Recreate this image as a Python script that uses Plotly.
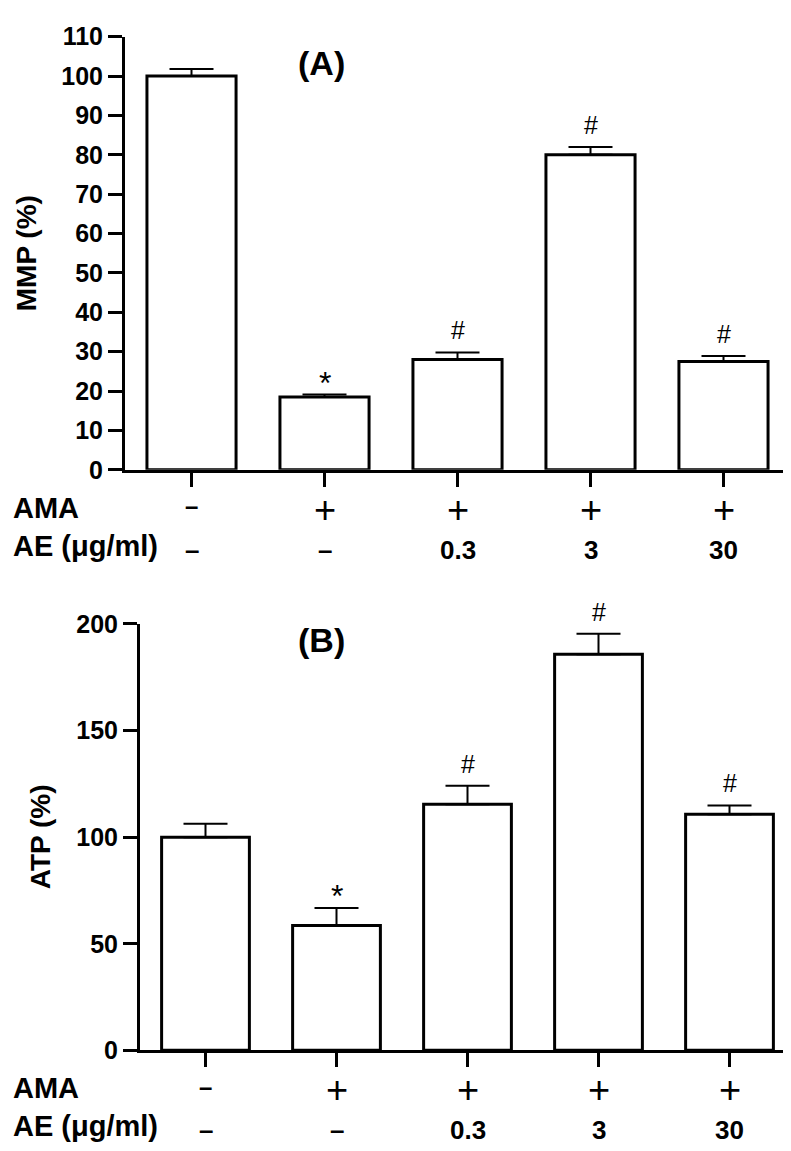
import plotly.graph_objects as go

# ---- data ----
groups = [0, 1, 2, 3, 4]
ama_labels = ["–", "+", "+", "+", "+"]
ae_labels = ["–", "–", "0.3", "3", "30"]

mmp_values = [100, 18.5, 28, 80, 27.5]
mmp_errors = [1.8, 0.6, 1.8, 2.0, 1.4]
mmp_marks = ["", "*", "#", "#", "#"]

atp_values = [100, 58.6, 115.5, 185.8, 110.8]
atp_errors = [6.3, 8.2, 8.6, 9.6, 4.1]
atp_marks = ["", "*", "#", "#", "#"]

W, H = 791, 1151
FONT = "Liberation Sans, Arial, sans-serif"


def px_x(p):
    return p / W


def px_y(p):
    return 1 - p / H


fig = go.Figure()

panels = [
    dict(xa="x", ya="y", vals=mmp_values, errs=mmp_errors, marks=mmp_marks,
         xdom=[px_x(117), px_x(782)], ydom=[px_y(459), px_y(15)],
         yrange=[0, 110], dtick=10, ytitle="MMP (%)", tag="(A)",
         tag_y=42, axis_y=459, title_x=18),
    dict(xa="x2", ya="y2", vals=atp_values, errs=atp_errors, marks=atp_marks,
         xdom=[px_x(132), px_x(787)], ydom=[px_y(1054), px_y(617)],
         yrange=[0, 200], dtick=50, ytitle="ATP (%)", tag="(B)",
         tag_y=633, axis_y=1054, title_x=32),
]

annotations = []
for k, p in enumerate(panels):
    fig.add_trace(go.Bar(
        x=groups, y=p["vals"], xaxis=p["xa"], yaxis=p["ya"],
        width=0.67,
        marker=dict(color="white", line=dict(color="black", width=3)),
        error_y=dict(type="data", array=p["errs"], arrayminus=[0] * 5,
                     symmetric=False, color="black", thickness=2, width=22),
        showlegend=False, hoverinfo="skip",
    ))
    suffix = "" if k == 0 else "2"
    xref = "x" + suffix
    yref = "y" + suffix
    for g, v, e, m in zip(groups, p["vals"], p["errs"], p["marks"]):
        if m:
            annotations.append(dict(
                x=g, y=v + e, xref=xref, yref=yref, text=m, showarrow=False,
                yanchor="middle", yshift=(12 if m == "*" else 22),
                font=dict(family=FONT, size=(32 if m == "*" else 25), color="black"),
            ))
    ay = p["axis_y"]
    # row labels
    annotations.append(dict(x=px_x(3), y=px_y(ay + 39), xref="paper", yref="paper",
                            text="<b>AMA</b>", showarrow=False, xanchor="left",
                            yanchor="middle", font=dict(family=FONT, size=29, color="black")))
    annotations.append(dict(x=px_x(3), y=px_y(ay + 78), xref="paper", yref="paper",
                            text="<b>AE (μg/ml)</b>", showarrow=False, xanchor="left",
                            yanchor="middle", font=dict(family=FONT, size=29, color="black")))
    for g, a, b in zip(groups, ama_labels, ae_labels):
        if a == "+":
            annotations.append(dict(x=g, xref=xref, y=px_y(ay + 41), yref="paper",
                                    text=a, showarrow=False, yanchor="middle",
                                    font=dict(family=FONT, size=38, color="black")))
        else:
            annotations.append(dict(x=g, xref=xref, y=px_y(ay + 37), yref="paper",
                                    text="<b>" + a + "</b>", showarrow=False, yanchor="middle",
                                    font=dict(family=FONT, size=24, color="black")))
        annotations.append(dict(x=g, xref=xref, y=px_y(ay + 82), yref="paper",
                                text="<b>" + b + "</b>", showarrow=False, yanchor="middle",
                                font=dict(family=FONT, size=26, color="black")))
    # panel tag
    annotations.append(dict(x=px_x(313), y=px_y(p["tag_y"]), xref="paper", yref="paper",
                            text="<b>" + p["tag"] + "</b>", showarrow=False,
                            yanchor="middle", font=dict(family=FONT, size=34, color="black")))
    # y title
    annotations.append(dict(x=px_x(p["title_x"]), y=(p["ydom"][0] + p["ydom"][1]) / 2,
                            xref="paper", yref="paper", text="<b>" + p["ytitle"] + "</b>",
                            showarrow=False, textangle=-90, xanchor="center", yanchor="middle",
                            font=dict(family=FONT, size=28, color="black")))

    xaxis = dict(domain=p["xdom"], range=[-0.5, 4.5], showline=True, linecolor="black",
                 linewidth=3, ticks="outside", ticklen=14, tickwidth=3, tickcolor="black",
                 tickvals=groups, showticklabels=False, showgrid=False, zeroline=False,
                 anchor=yref)
    yaxis = dict(domain=p["ydom"], range=p["yrange"], dtick=p["dtick"], tick0=0,
                 showline=True, linecolor="black", linewidth=3, ticks="outside",
                 ticklen=14, tickwidth=3, tickcolor="black", showgrid=False,
                 zeroline=False, anchor=xref,
                 tickfont=dict(family=FONT, size=25, color="black", weight="bold"))
    if k == 0:
        fig.update_layout(xaxis=xaxis, yaxis=yaxis)
    else:
        fig.update_layout(xaxis2=xaxis, yaxis2=yaxis)

fig.update_layout(
    width=W, height=H,
    margin=dict(l=0, r=0, t=0, b=0),
    paper_bgcolor="white", plot_bgcolor="white",
    annotations=annotations,
    font=dict(family=FONT, color="black"),
)

fig.write_html("out.html")
